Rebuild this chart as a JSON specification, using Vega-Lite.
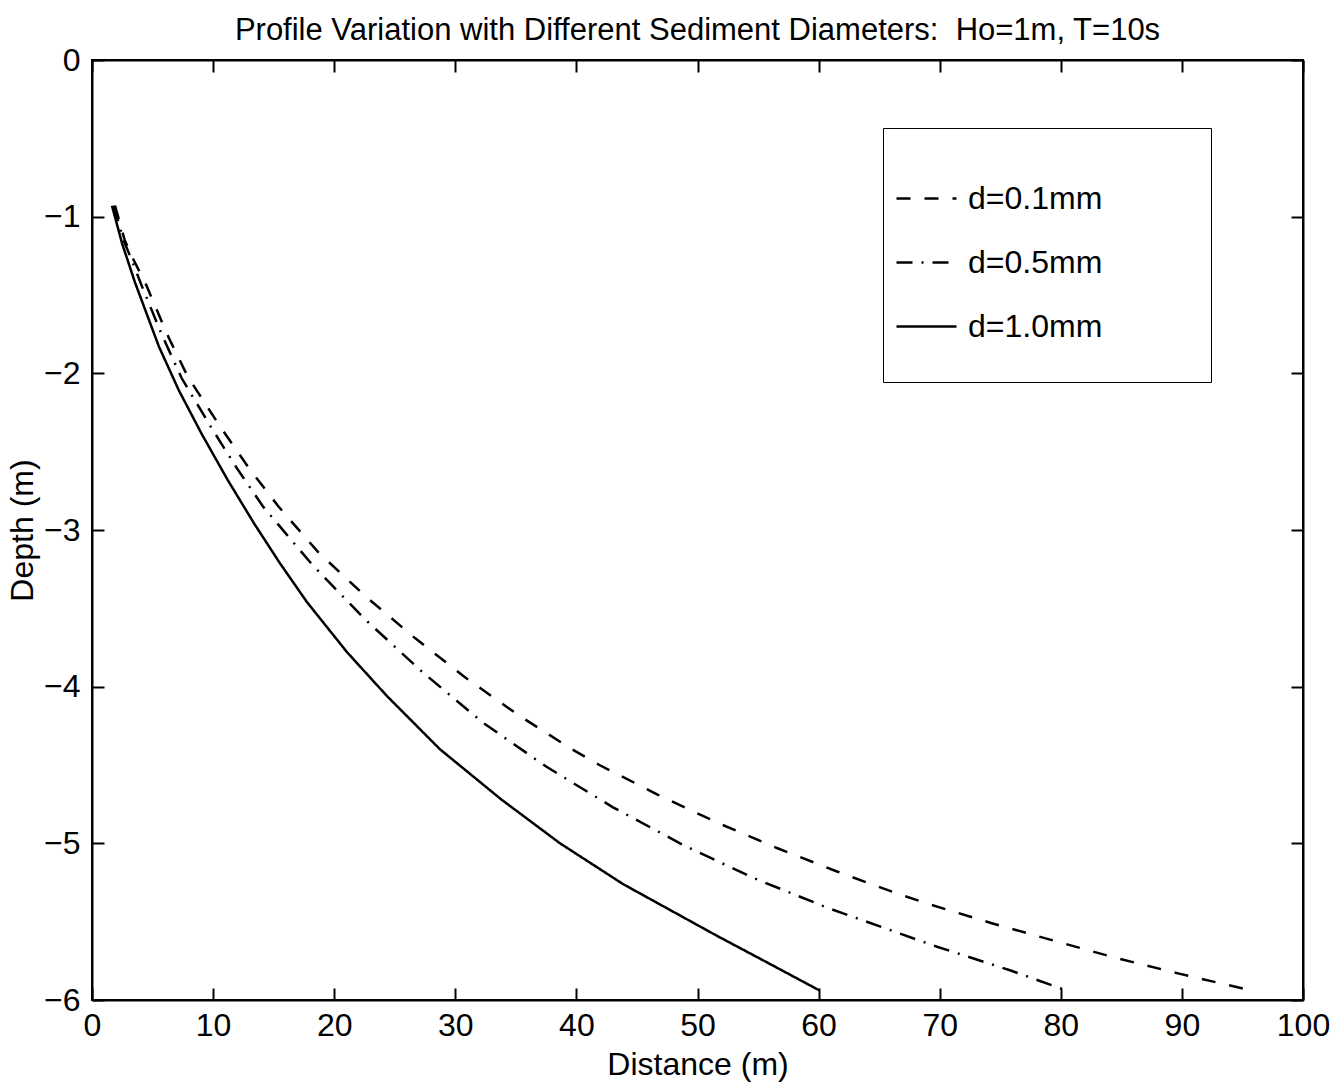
{
  "$schema": "https://vega.github.io/schema/vega-lite/v6.json",
  "width": 1211,
  "height": 940,
  "autosize": {"type": "none"},
  "padding": {"left": 92, "top": 60, "right": 41, "bottom": 86},
  "background": "white",
  "title": {
    "text": "Profile Variation with Different Sediment Diameters:\u00a0 Ho=1m, T=10s",
    "fontSize": 31,
    "fontWeight": "normal",
    "font": "Liberation Sans",
    "color": "black",
    "offset": -3,
    "anchor": "middle"
  },
  "config": {
    "view": {"stroke": "black", "strokeWidth": 2},
    "font": "Liberation Sans",
    "axis": {
      "grid": false,
      "domainColor": "black",
      "domainWidth": 2,
      "tickColor": "black",
      "tickWidth": 2,
      "tickSize": -12,
      "labelFlush": false,
      "labelFont": "Liberation Sans",
      "labelFontSize": 32,
      "labelColor": "black",
      "titleFont": "Liberation Sans",
      "titleFontSize": 32,
      "titleFontWeight": "normal",
      "titleColor": "black"
    }
  },
  "data": {
    "values": [
      {"series": "d=0.1mm", "distance": 1.9, "depth": -0.93},
      {"series": "d=0.1mm", "distance": 2.7, "depth": -1.15},
      {"series": "d=0.1mm", "distance": 3.4, "depth": -1.27},
      {"series": "d=0.1mm", "distance": 4.5, "depth": -1.44},
      {"series": "d=0.1mm", "distance": 6.2, "depth": -1.75},
      {"series": "d=0.1mm", "distance": 7.9, "depth": -2.02},
      {"series": "d=0.1mm", "distance": 10.5, "depth": -2.33},
      {"series": "d=0.1mm", "distance": 13.0, "depth": -2.61},
      {"series": "d=0.1mm", "distance": 15.4, "depth": -2.85},
      {"series": "d=0.1mm", "distance": 18.66, "depth": -3.14},
      {"series": "d=0.1mm", "distance": 22.54, "depth": -3.42},
      {"series": "d=0.1mm", "distance": 26.67, "depth": -3.69},
      {"series": "d=0.1mm", "distance": 30.8, "depth": -3.94},
      {"series": "d=0.1mm", "distance": 35.18, "depth": -4.18},
      {"series": "d=0.1mm", "distance": 39.64, "depth": -4.4},
      {"series": "d=0.1mm", "distance": 41.9, "depth": -4.5},
      {"series": "d=0.1mm", "distance": 46.74, "depth": -4.69},
      {"series": "d=0.1mm", "distance": 51.69, "depth": -4.87},
      {"series": "d=0.1mm", "distance": 56.56, "depth": -5.03},
      {"series": "d=0.1mm", "distance": 61.52, "depth": -5.18},
      {"series": "d=0.1mm", "distance": 66.47, "depth": -5.32},
      {"series": "d=0.1mm", "distance": 69.2, "depth": -5.39},
      {"series": "d=0.1mm", "distance": 74.3, "depth": -5.51},
      {"series": "d=0.1mm", "distance": 79.36, "depth": -5.62},
      {"series": "d=0.1mm", "distance": 84.48, "depth": -5.73},
      {"series": "d=0.1mm", "distance": 89.68, "depth": -5.83},
      {"series": "d=0.1mm", "distance": 95.79, "depth": -5.94},

      {"series": "d=0.5mm", "distance": 1.8, "depth": -0.93},
      {"series": "d=0.5mm", "distance": 2.6, "depth": -1.15},
      {"series": "d=0.5mm", "distance": 3.3, "depth": -1.28},
      {"series": "d=0.5mm", "distance": 4.1, "depth": -1.44},
      {"series": "d=0.5mm", "distance": 5.8, "depth": -1.76},
      {"series": "d=0.5mm", "distance": 7.4, "depth": -2.03},
      {"series": "d=0.5mm", "distance": 9.8, "depth": -2.34},
      {"series": "d=0.5mm", "distance": 12.0, "depth": -2.61},
      {"series": "d=0.5mm", "distance": 14.12, "depth": -2.85},
      {"series": "d=0.5mm", "distance": 18.17, "depth": -3.22},
      {"series": "d=0.5mm", "distance": 22.54, "depth": -3.57},
      {"series": "d=0.5mm", "distance": 27.33, "depth": -3.91},
      {"series": "d=0.5mm", "distance": 32.29, "depth": -4.23},
      {"series": "d=0.5mm", "distance": 37.5, "depth": -4.51},
      {"series": "d=0.5mm", "distance": 43.02, "depth": -4.77},
      {"series": "d=0.5mm", "distance": 48.8, "depth": -5.01},
      {"series": "d=0.5mm", "distance": 54.58, "depth": -5.22},
      {"series": "d=0.5mm", "distance": 60.69, "depth": -5.41},
      {"series": "d=0.5mm", "distance": 66.5, "depth": -5.57},
      {"series": "d=0.5mm", "distance": 69.78, "depth": -5.66},
      {"series": "d=0.5mm", "distance": 75.8, "depth": -5.81},
      {"series": "d=0.5mm", "distance": 80.5, "depth": -5.94},

      {"series": "d=1.0mm", "distance": 1.65, "depth": -0.93},
      {"series": "d=1.0mm", "distance": 2.48, "depth": -1.17},
      {"series": "d=1.0mm", "distance": 3.55, "depth": -1.42},
      {"series": "d=1.0mm", "distance": 5.53, "depth": -1.83},
      {"series": "d=1.0mm", "distance": 7.18, "depth": -2.11},
      {"series": "d=1.0mm", "distance": 9.08, "depth": -2.39},
      {"series": "d=1.0mm", "distance": 11.2, "depth": -2.68},
      {"series": "d=1.0mm", "distance": 13.4, "depth": -2.96},
      {"series": "d=1.0mm", "distance": 15.5, "depth": -3.21},
      {"series": "d=1.0mm", "distance": 17.75, "depth": -3.46},
      {"series": "d=1.0mm", "distance": 21.06, "depth": -3.78},
      {"series": "d=1.0mm", "distance": 24.36, "depth": -4.06},
      {"series": "d=1.0mm", "distance": 28.74, "depth": -4.4},
      {"series": "d=1.0mm", "distance": 33.8, "depth": -4.72},
      {"series": "d=1.0mm", "distance": 38.65, "depth": -5.0},
      {"series": "d=1.0mm", "distance": 43.85, "depth": -5.26},
      {"series": "d=1.0mm", "distance": 46.9, "depth": -5.39},
      {"series": "d=1.0mm", "distance": 51.6, "depth": -5.59},
      {"series": "d=1.0mm", "distance": 55.74, "depth": -5.76},
      {"series": "d=1.0mm", "distance": 60.1, "depth": -5.94}
    ]
  },
  "layer": [
    {
      "mark": {"type": "line", "color": "black", "strokeWidth": 2.5},
      "encoding": {
        "x": {
          "field": "distance",
          "type": "quantitative",
          "scale": {"domain": [0, 100], "nice": false, "zero": false},
          "axis": {
            "values": [0, 10, 20, 30, 40, 50, 60, 70, 80, 90, 100],
            "title": "Distance (m)",
            "labelPadding": 22,
            "titlePadding": 8
          }
        },
        "y": {
          "field": "depth",
          "type": "quantitative",
          "scale": {"domain": [-6, 0], "nice": false, "zero": false},
          "axis": {
            "values": [-6, -5, -4, -3, -2, -1, 0],
            "title": "Depth (m)",
            "labelPadding": 24,
            "titlePadding": 4
          }
        },
        "strokeDash": {
          "field": "series",
          "type": "nominal",
          "scale": {
            "domain": ["d=0.1mm", "d=0.5mm", "d=1.0mm"],
            "range": [[14, 14], [16, 9, 2, 9], [1, 0]]
          },
          "legend": {
            "orient": "none",
            "legendX": 791,
            "legendY": 68,
            "title": null,
            "strokeColor": "black",
            "fillColor": "white",
            "padding": 39,
            "symbolType": "stroke",
            "symbolSize": 3600,
            "symbolOffset": -27,
            "symbolStrokeWidth": 2.5,
            "symbolStrokeColor": "black",
            "labelFont": "Liberation Sans",
            "labelFontSize": 32,
            "labelColor": "black",
            "labelOffset": 10,
            "labelLimit": 400,
            "rowPadding": 16,
            "labelExpr": "datum.label + '\u2800\u2800\u2800'"
          }
        }
      }
    },
    {
      "mark": {"type": "line", "opacity": 0},
      "encoding": {
        "x": {
          "field": "distance",
          "type": "quantitative",
          "scale": {"domain": [0, 100], "nice": false, "zero": false},
          "axis": {
            "orient": "top",
            "values": [0, 10, 20, 30, 40, 50, 60, 70, 80, 90, 100],
            "labels": false,
            "title": null
          }
        },
        "y": {
          "field": "depth",
          "type": "quantitative",
          "scale": {"domain": [-6, 0], "nice": false, "zero": false},
          "axis": {
            "orient": "right",
            "values": [-6, -5, -4, -3, -2, -1, 0],
            "labels": false,
            "title": null
          }
        },
        "detail": {"field": "series", "type": "nominal"}
      }
    }
  ],
  "resolve": {"axis": {"x": "independent", "y": "independent"}}
}
